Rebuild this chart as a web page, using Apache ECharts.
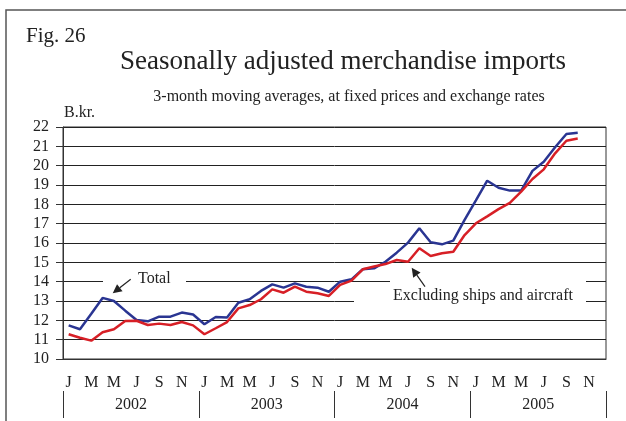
<!DOCTYPE html>
<html>
<head>
<meta charset="utf-8">
<script src="https://cdn.jsdelivr.net/npm/echarts@6/dist/echarts.min.js"></script>
<style>
  html, body { margin: 0; padding: 0; background: #fff; }
  #chart { width: 626px; height: 421px; }
</style>
</head>
<body>
<div id="chart"></div>
<script>
// month letters, 2002-2005
const monthLetters = ['J','F','M','A','M','J','J','A','S','O','N','D'];
const months = [].concat(monthLetters, monthLetters, monthLetters, monthLetters);
const years = ['2002', '2003', '2004', '2005'];

// B.kr., Jan 2002 - Oct 2005
const total = [
  11.74, 11.54, 12.34, 13.16, 13.0, 12.5, 12.02, 11.95, 12.19, 12.19, 12.4, 12.3,
  11.8, 12.17, 12.15, 12.91, 13.09, 13.52, 13.86, 13.69, 13.91, 13.74, 13.69, 13.48,
  14.0, 14.12, 14.64, 14.69, 15.03, 15.5, 16.02, 16.76, 16.04, 15.93, 16.12, 17.2,
  18.2, 19.22, 18.86, 18.71, 18.71, 19.73, 20.2, 20.95, 21.64, 21.7
];
const exclShips = [
  11.28, 11.1, 10.95, 11.38, 11.54, 11.97, 11.98, 11.76, 11.83, 11.76, 11.91, 11.74,
  11.28, 11.59, 11.91, 12.62, 12.79, 13.09, 13.6, 13.43, 13.74, 13.48, 13.4, 13.26,
  13.83, 14.05, 14.64, 14.78, 14.91, 15.12, 15.03, 15.73, 15.33, 15.47, 15.55, 16.41,
  17.02, 17.38, 17.75, 18.08, 18.66, 19.31, 19.81, 20.64, 21.29, 21.4
];

const serif = '"Liberation Serif", "DejaVu Serif", serif';
const ink = '#222';

function arrow(x1, y1, x2, y2) {
  // line from (x1,y1) with head at (x2,y2)
  const dx = x2 - x1, dy = y2 - y1;
  const len = Math.sqrt(dx * dx + dy * dy);
  const ux = dx / len, uy = dy / len;
  const bx = x2 - ux * 9, by = y2 - uy * 9;
  const px = -uy * 4.5, py = ux * 4.5;
  return [
    { type: 'line', z: 100, shape: { x1: x1, y1: y1, x2: bx, y2: by },
      style: { stroke: ink, lineWidth: 1.2 } },
    { type: 'polygon', z: 100, shape: { points: [[x2, y2], [bx + px, by + py], [bx - px, by - py]] },
      style: { fill: ink } }
  ];
}

function whiteBox(x, y, w, h) {
  return { type: 'rect', z: 1, shape: { x: x, y: y, width: w, height: h }, style: { fill: '#fff' } };
}

var chartDom = document.getElementById('chart');
var myChart = echarts.init(chartDom);

var option = {
  backgroundColor: '#fff',
  animation: false,
  grid: {
    left: 63, right: 20, top: 127, bottom: 62,
    show: true, borderColor: '#333', borderWidth: 1
  },
  xAxis: [
    {
      type: 'category',
      data: months,
      boundaryGap: true,
      axisLine: { lineStyle: { color: '#333', width: 1 } },
      axisTick: { interval: 0, length: 7, lineStyle: { color: '#333' } },
      axisLabel: { interval: 1, margin: 16, color: ink, fontFamily: serif, fontSize: 16 },
      splitLine: { show: false }
    },
    {
      type: 'category',
      data: years,
      position: 'bottom',
      offset: 32,
      boundaryGap: true,
      axisLine: { show: false },
      axisTick: { show: true, interval: 0, length: 27, lineStyle: { color: '#333' } },
      axisLabel: { margin: 6, color: ink, fontFamily: serif, fontSize: 16 }
    }
  ],
  yAxis: {
    type: 'value',
    min: 10, max: 22, interval: 1,
    axisLine: { show: true, lineStyle: { color: '#333', width: 1 } },
    axisTick: { show: true, length: 7, lineStyle: { color: '#333' } },
    axisLabel: { margin: 14, color: ink, fontFamily: serif, fontSize: 16 },
    splitLine: { lineStyle: { color: '#222', width: 1 } }
  },
  series: [
    {
      name: 'Total',
      type: 'line',
      data: total,
      symbol: 'none',
      lineStyle: { color: '#2a3592', width: 2.5 },
      z: 3
    },
    {
      name: 'Excluding ships and aircraft',
      type: 'line',
      data: exclShips,
      symbol: 'none',
      lineStyle: { color: '#d71f26', width: 2.5 },
      z: 4
    }
  ],
  graphic: [
    { type: 'rect', z: 100, shape: { x: 6, y: 10, width: 700, height: 500 },
      style: { fill: 'none', stroke: '#555', lineWidth: 1.5 } },
    { type: 'text', z: 100, x: 26, y: 36,
      style: { text: 'Fig. 26', font: '21px ' + serif, fill: ink, textVerticalAlign: 'middle' } },
    { type: 'text', z: 100, x: 343, y: 62,
      style: { text: 'Seasonally adjusted merchandise imports', font: '27px ' + serif, fill: ink,
               textAlign: 'center', textVerticalAlign: 'middle' } },
    { type: 'text', z: 100, x: 349, y: 97,
      style: { text: '3-month moving averages, at fixed prices and exchange rates', font: '16px ' + serif,
               fill: ink, textAlign: 'center', textVerticalAlign: 'middle' } },
    { type: 'text', z: 100, x: 64, y: 113,
      style: { text: 'B.kr.', font: '16px ' + serif, fill: ink, textVerticalAlign: 'middle' } },
    whiteBox(103, 276, 83, 12),
    whiteBox(390, 276, 196, 12),
    whiteBox(354, 295, 232, 12),
    { type: 'text', z: 100, x: 138, y: 279,
      style: { text: 'Total', font: '16px ' + serif, fill: ink, textVerticalAlign: 'middle' } },
    { type: 'text', z: 100, x: 393, y: 296,
      style: { text: 'Excluding ships and aircraft', font: '16px ' + serif, fill: ink, textVerticalAlign: 'middle' } }
  ].concat(arrow(130.7, 279.3, 112.7, 293.3), arrow(425, 286.7, 411.7, 267.7))
};

option && myChart.setOption(option);
</script>
</body>
</html>
